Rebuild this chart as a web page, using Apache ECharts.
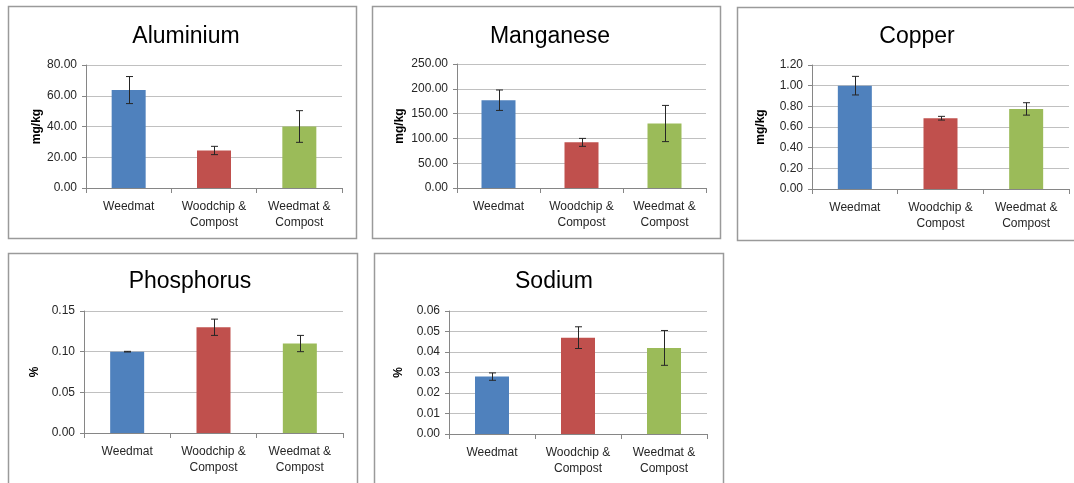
<!DOCTYPE html>
<html>
<head>
<meta charset="utf-8">
<script src="https://cdn.jsdelivr.net/npm/echarts@6/dist/echarts.min.js"></script>
<style>
  html, body { margin: 0; padding: 0; background: #fff; }
  #chart { width: 1074px; height: 483px; }
</style>
</head>
<body>
<div id="chart"></div>
<script>
var categories = ['Weedmat', 'Woodchip &\nCompost', 'Weedmat &\nCompost'];

var aluminiumMean = [63.7, 24.4, 40.0];
var aluminiumErr = [8.8, 2.7, 10.3];
var manganeseMean = [177, 92, 130];
var manganeseErr = [20.6, 8.0, 36.5];
var copperMean = [1.00, 0.685, 0.775];
var copperErr = [0.09, 0.018, 0.06];
var phosphorusMean = [0.10, 0.13, 0.11];
var phosphorusErr = [0.0004, 0.01, 0.01];
var sodiumMean = [0.028, 0.047, 0.042];
var sodiumErr = [0.0018, 0.0053, 0.0085];

var titles = ['Aluminium', 'Manganese', 'Copper', 'Phosphorus', 'Sodium'];
var units = ['mg/kg', 'mg/kg', 'mg/kg', '%', '%'];
var axisMax = [80, 250, 1.2, 0.15, 0.06];
var axisStep = [20, 50, 0.2, 0.05, 0.01];

var barColors = ['#4F81BD', '#C0504D', '#9BBB59'];
var font = 'Liberation Sans';

var means = [aluminiumMean, manganeseMean, copperMean, phosphorusMean, sodiumMean];
var errs = [aluminiumErr, manganeseErr, copperErr, phosphorusErr, sodiumErr];

// panel layout: frame box, plot grid, title centre, y name gap
var panels = [
    { box: [8, 6, 348, 232],   grid: [86, 65, 256, 123],  tx: 181, ty: 20,  gap: 42 },
    { box: [372, 6, 348, 232], grid: [457, 64, 249, 124], tx: 545, ty: 20,  gap: 51 },
    { box: [737, 7, 345, 233], grid: [812, 65, 257, 124], tx: 912, ty: 20,  gap: 45 },
    { box: [8, 253, 349, 240], grid: [84, 311, 259, 122], tx: 185, ty: 265, gap: 43 },
    { box: [374, 253, 349, 240], grid: [449, 311, 258, 123], tx: 549, ty: 265, gap: 44 }
];

function renderErr(params, api) {
    var x = api.value(0);
    var top = api.coord([x, api.value(2)]);
    var bot = api.coord([x, api.value(1)]);
    var cx = Math.round(top[0]) + 0.5;
    var half = 3.5;
    var st = { stroke: '#262626', lineWidth: 1 };
    return {
        type: 'group',
        children: [
            { type: 'line', shape: { x1: cx, y1: top[1], x2: cx, y2: bot[1] }, style: st },
            { type: 'line', shape: { x1: cx - half, y1: top[1], x2: cx + half, y2: top[1] }, style: st },
            { type: 'line', shape: { x1: cx - half, y1: bot[1], x2: cx + half, y2: bot[1] }, style: st }
        ]
    };
}

var chart = echarts.init(document.getElementById('chart'));

var option = {
    animation: false,
    backgroundColor: '#fff',
    textStyle: { fontFamily: font },
    title: [],
    grid: [],
    xAxis: [],
    yAxis: [],
    series: [],
    graphic: []
};

panels.forEach(function (p, i) {
    option.graphic.push({
        type: 'rect',
        shape: { x: p.box[0] + 0.5, y: p.box[1] + 0.5, width: p.box[2], height: p.box[3] },
        style: { fill: 'none', stroke: '#9a9a9a', lineWidth: 1.5 },
        silent: true
    });
    option.title.push({
        text: titles[i],
        left: p.tx,
        top: p.ty,
        textAlign: 'center',
        textStyle: { fontFamily: font, fontSize: 23, fontWeight: 'normal', color: '#000' }
    });
    option.grid.push({
        left: p.grid[0], top: p.grid[1], width: p.grid[2], height: p.grid[3],
        containLabel: false
    });
    option.xAxis.push({
        type: 'category',
        gridIndex: i,
        data: categories,
        axisLine: { lineStyle: { color: '#868686', width: 1 } },
        axisTick: { show: true, alignWithLabel: false, length: 5, lineStyle: { color: '#868686' } },
        axisLabel: {
            interval: 0, margin: 11, fontSize: 12, lineHeight: 16,
            color: '#262626', fontFamily: font, verticalAlign: 'top'
        },
        splitLine: { show: false }
    });
    option.yAxis.push({
        type: 'value',
        gridIndex: i,
        min: 0,
        max: axisMax[i],
        interval: axisStep[i],
        name: units[i],
        nameLocation: 'middle',
        nameGap: p.gap,
        nameTextStyle: { fontFamily: font, fontSize: 12, fontWeight: 'bold', color: '#000' },
        axisLine: { show: true, lineStyle: { color: '#868686', width: 1 } },
        axisTick: { show: true, length: 4, lineStyle: { color: '#868686' } },
        axisLabel: {
            margin: 9, fontSize: 12, color: '#262626', fontFamily: font,
            formatter: function (v) { return v.toFixed(2); }
        },
        splitLine: { show: true, lineStyle: { color: '#c0c0c0', width: 1 } }
    });
    option.series.push({
        type: 'bar',
        xAxisIndex: i,
        yAxisIndex: i,
        barWidth: 34,
        data: means[i].map(function (v, k) {
            return { value: v, itemStyle: { color: barColors[k] } };
        })
    });
    option.series.push({
        type: 'custom',
        xAxisIndex: i,
        yAxisIndex: i,
        renderItem: renderErr,
        encode: { x: 0, y: [1, 2] },
        z: 10,
        data: means[i].map(function (v, k) {
            return [k, v - errs[i][k], v + errs[i][k]];
        })
    });
});

chart.setOption(option);
</script>
</body>
</html>
